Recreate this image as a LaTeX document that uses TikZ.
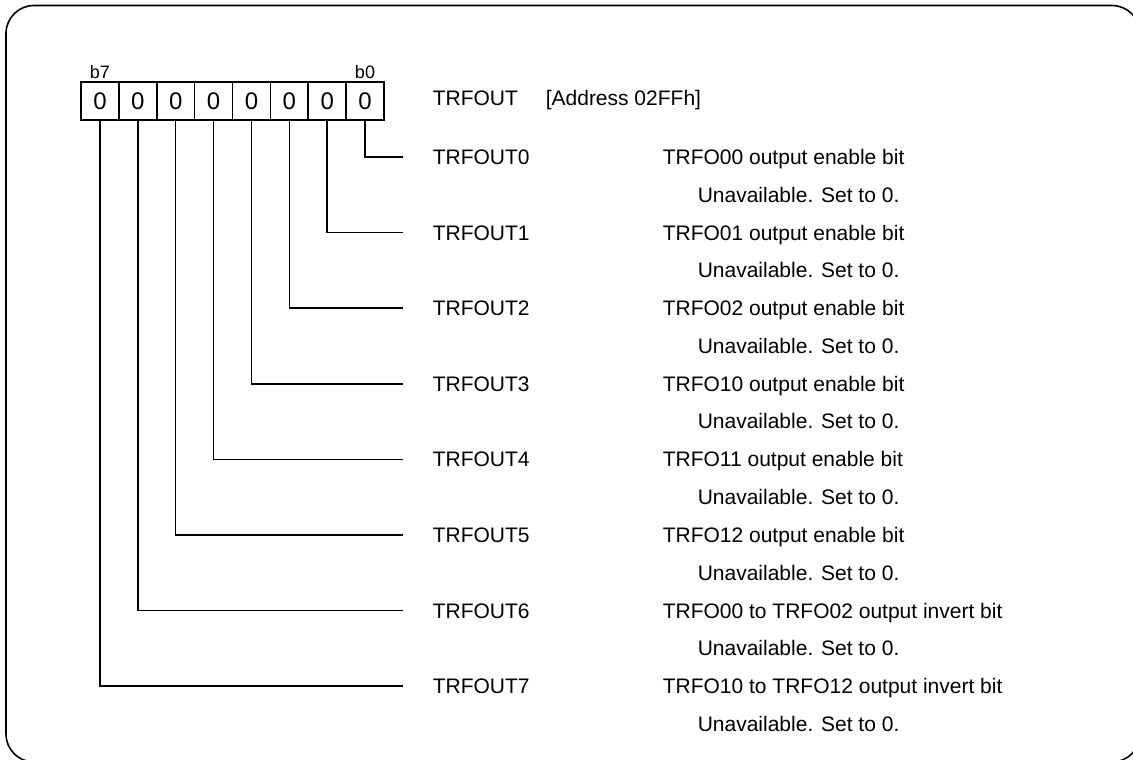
\documentclass[tikz,border=0pt]{standalone}
\usepackage{fontspec}
\setmainfont{Liberation Sans}
\begin{document}
\begin{tikzpicture}[x=1pt,y=-1pt,
  line width=1.6pt,
  cell/.style={draw, minimum width=37.875pt, minimum height=38pt, inner sep=0pt, font=\fontsize{24}{28}\selectfont},
  bitlbl/.style={anchor=base, inner sep=0pt, font=\fontsize{18}{22}\selectfont},
  txt/.style={anchor=base west, inner sep=0pt, font=\fontsize{21}{25}\selectfont},
  lead/.style={line width=1.6pt}]
\useasboundingbox (0,0) rectangle (1133,760);
\clip (0,0) rectangle (1133,760);
\draw[rounded corners=28pt] (6,5.5) rectangle (1140,762);
% register cells
\foreach \i in {0,...,7}{
  \pgfmathsetmacro{\cx}{81+(7-\i+0.5)*37.875}
  \node[cell] (c\i) at (\cx,101) {0};
}
\node[bitlbl] (b7) at (100,78) {b7};
\node[bitlbl] (b0) at (365,78) {b0};
% header
\node[txt] (reg) at (432,106) {TRFOUT};
\node[txt] (addr) at (545,106) {[Address 02FFh]};
% rows
\foreach \i/\d in {0/TRFO00 output enable bit,
                   1/TRFO01 output enable bit,
                   2/TRFO02 output enable bit,
                   3/TRFO10 output enable bit,
                   4/TRFO11 output enable bit,
                   5/TRFO12 output enable bit,
                   6/TRFO00 to TRFO02 output invert bit,
                   7/TRFO10 to TRFO12 output invert bit}{
  \pgfmathsetmacro{\ry}{157+\i*75.6}
  \coordinate (e\i) at (403,\ry);
  \draw[lead] (c\i.south) |- (e\i);
  \node[txt] (n\i) at (432,\ry+7.5) {TRFOUT\i};
  \node[txt] (d\i) at (662,\ry+7.5) {\d};
  \node[txt] (u\i) at (697,\ry+45) {Unavailable. Set to 0.};
}
\end{tikzpicture}
\end{document}
